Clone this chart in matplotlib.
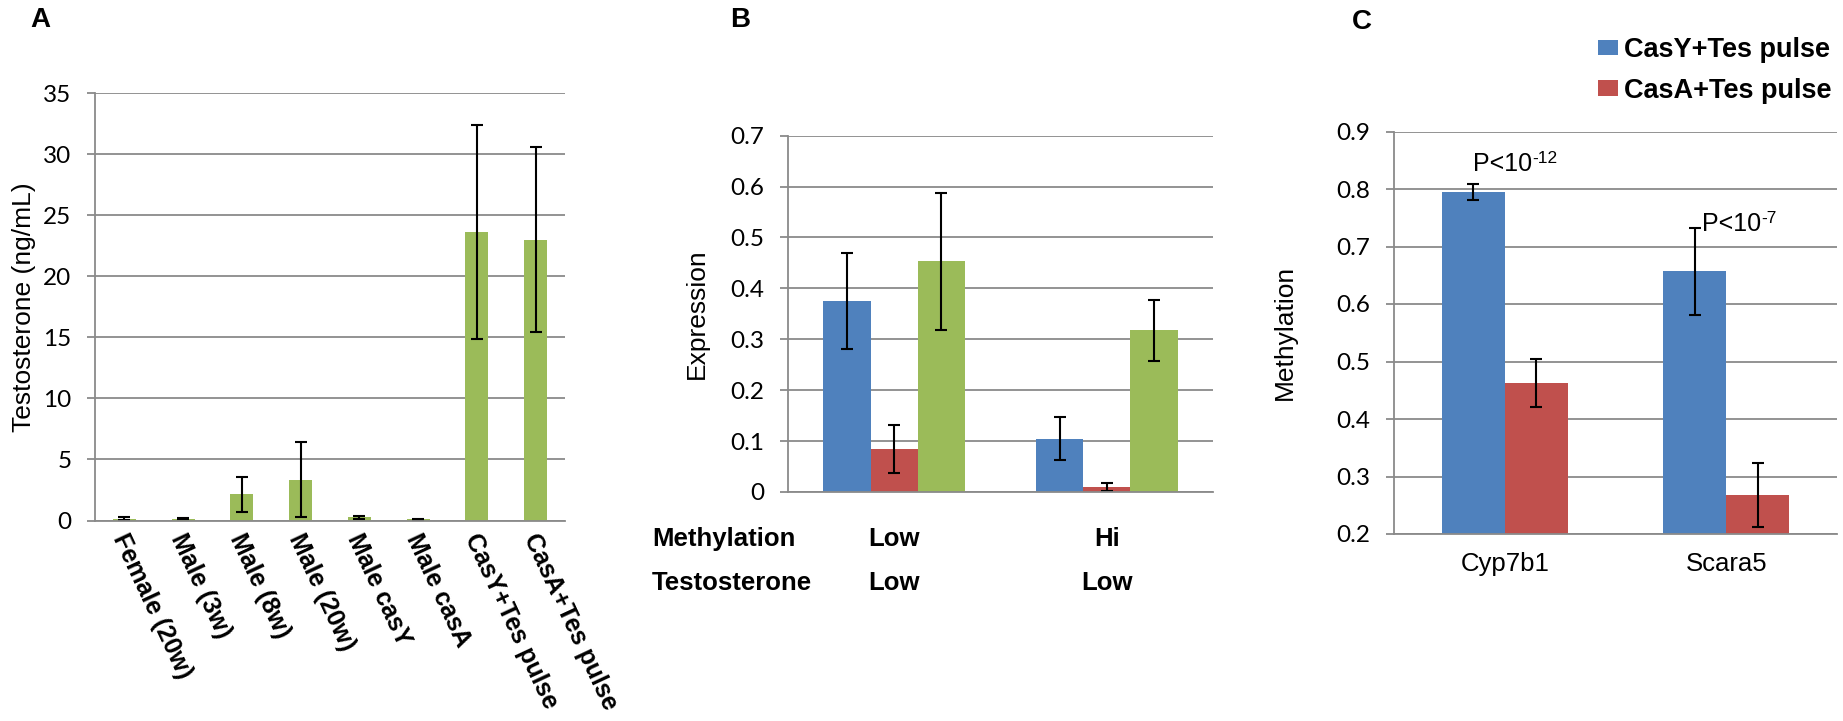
import matplotlib
matplotlib.use("Agg")
import matplotlib.pyplot as plt
import numpy as np
from matplotlib.transforms import blended_transform_factory, ScaledTranslation

plt.rcParams['font.family'] = ['Liberation Sans', 'DejaVu Sans']

BLUE = '#4F81BD'
RED = '#C0504D'
GREEN = '#9BBB59'
GRID = '#8A8A8A'

# Panel A data
a_labels = ['Female (20w)', 'Male (3w)', 'Male (8w)', 'Male (20w)', 'Male casY',
            'Male casA', 'CasY+Tes pulse', 'CasA+Tes pulse']
a_values = [0.15, 0.15, 2.14, 3.35, 0.25, 0.12, 23.6, 23.0]
a_errors = [0.12, 0.05, 1.46, 3.1, 0.12, 0.04, 8.75, 7.6]

# Panel B data
b_groups = ['Low', 'Hi']
b_testo = ['Low', 'Low']
b_blue = [0.375, 0.105]
b_blue_err = [0.094, 0.042]
b_red = [0.085, 0.010]
b_red_err = [0.047, 0.008]
b_green = [0.453, 0.318]
b_green_err = [0.135, 0.060]

# Panel C data
c_genes = ['Cyp7b1', 'Scara5']
c_casy = [0.795, 0.657]
c_casy_err = [0.014, 0.076]
c_casa = [0.463, 0.268]
c_casa_err = [0.042, 0.055]
c_series = ['CasY+Tes pulse', 'CasA+Tes pulse']
c_pbase = ['P<10', 'P<10']
c_pexp = ['-12', '-7']

W, H = 1843, 721
fig = plt.figure(figsize=(W / 100, H / 100), dpi=100)

def px_axes(l, t, r, b):
    return fig.add_axes([l / W, 1 - b / H, (r - l) / W, (b - t) / H])

def fx(x):
    return x / W

def fy(y):
    return 1 - y / H

TICKFONT = ['Lato', 'DejaVu Sans']

def style(ax):
    ax.set_axisbelow(True)
    ax.yaxis.grid(True, color=GRID, linewidth=1.3)
    for s in ['top', 'right']:
        ax.spines[s].set_visible(False)
    for s in ['left', 'bottom']:
        ax.spines[s].set_color(GRID)
        ax.spines[s].set_linewidth(1.3)
    ax.tick_params(axis='y', direction='out', length=6, width=1.3, color=GRID,
                   labelsize=17.5, pad=11)
    ax.tick_params(axis='x', length=0)
    for t in ax.get_yticklabels():
        t.set_fontfamily(TICKFONT)

ekw = dict(ecolor='black', elinewidth=1.5, capsize=4.5, capthick=1.5)

def place_ylabel(ax, text, xpix, left_pix, right_pix):
    ax.set_ylabel(text, fontsize=19, va='center')
    ax.yaxis.set_label_coords((xpix - left_pix) / (right_pix - left_pix), 0.5)

# ---- Panel A ----
A_L, A_T, A_R, A_B = 95, 93, 565, 520.5
axA = px_axes(A_L, A_T, A_R, A_B)
xa = np.arange(len(a_labels))
axA.bar(xa, a_values, width=0.39, color=GREEN, yerr=a_errors, error_kw=ekw, zorder=2)
axA.set_xlim(-0.5, len(a_labels) - 0.5)
axA.set_ylim(0, 35)
axA.set_yticks(np.arange(0, 36, 5))
axA.set_xticks(xa)
axA.set_xticklabels(a_labels, rotation=-65, ha='left', va='top',
                    rotation_mode='anchor', fontsize=18, fontweight='bold')
style(axA)
axA.tick_params(axis='x', pad=7)
shift = ScaledTranslation(5 / 100, 0, fig.dpi_scale_trans)
for t in axA.get_xticklabels():
    t.set_transform(t.get_transform() + shift)
place_ylabel(axA, 'Testosterone (ng/mL)', 24, A_L, A_R)
fig.text(fx(40), fy(20), 'A', fontsize=20, fontweight='bold', ha='center', va='center')

# ---- Panel B ----
B_L, B_T, B_R, B_B = 788, 135.7, 1213, 492
axB = px_axes(B_L, B_T, B_R, B_B)
xb = np.arange(len(b_groups))
bw = 0.222
axB.bar(xb - bw, b_blue, width=bw, color=BLUE, yerr=b_blue_err, error_kw=ekw, zorder=2)
axB.bar(xb, b_red, width=bw, color=RED, yerr=b_red_err, error_kw=ekw, zorder=2)
axB.bar(xb + bw, b_green, width=bw, color=GREEN, yerr=b_green_err, error_kw=ekw, zorder=2)
axB.set_xlim(-0.5, len(b_groups) - 0.5)
axB.set_ylim(0, 0.7)
yb = np.round(np.arange(0, 0.71, 0.1), 1)
axB.set_yticks(yb)
axB.set_yticklabels(['0'] + ['%.1f' % v for v in yb[1:]])
axB.set_xticks([])
style(axB)
place_ylabel(axB, 'Expression', 697, B_L, B_R)
fig.text(fx(740), fy(20), 'B', fontsize=20, fontweight='bold', ha='center', va='center')
trB = blended_transform_factory(axB.transData, fig.transFigure)
fig.text(fx(652), fy(539), 'Methylation', fontsize=18.5, fontweight='bold', ha='left', va='center')
fig.text(fx(652), fy(583), 'Testosterone', fontsize=18.5, fontweight='bold', ha='left', va='center')
for i, (g, t) in enumerate(zip(b_groups, b_testo)):
    axB.text(xb[i], fy(539), g, transform=trB, fontsize=18.5, fontweight='bold',
             ha='center', va='center')
    axB.text(xb[i], fy(583), t, transform=trB, fontsize=18.5, fontweight='bold',
             ha='center', va='center')

# ---- Panel C ----
C_L, C_T, C_R, C_B = 1394, 131.5, 1837, 534
axC = px_axes(C_L, C_T, C_R, C_B)
xc = np.arange(len(c_genes))
cw = 0.284
b1 = axC.bar(xc - cw / 2, c_casy, width=cw, color=BLUE, yerr=c_casy_err, error_kw=ekw,
             zorder=2, label=c_series[0])
b2 = axC.bar(xc + cw / 2, c_casa, width=cw, color=RED, yerr=c_casa_err, error_kw=ekw,
             zorder=2, label=c_series[1])
axC.set_xlim(-0.5, len(c_genes) - 0.5)
axC.set_ylim(0.2, 0.9)
yc = np.round(np.arange(0.2, 0.91, 0.1), 1)
axC.set_yticks(yc)
axC.set_yticklabels(['%.1f' % v for v in yc])
axC.set_xticks(xc)
axC.set_xticklabels(c_genes, fontsize=18.5)
style(axC)
axC.tick_params(axis='x', pad=13)
place_ylabel(axC, 'Methylation', 1285, C_L, C_R)
fig.text(fx(1362), fy(22), 'C', fontsize=20, fontweight='bold', ha='center', va='center')
p_pos = [(xc[0] - cw / 2, 0.832), (xc[1] - cw / 2 + 0.034, 0.727)]
for (px, py), base, exp in zip(p_pos, c_pbase, c_pexp):
    t = axC.text(px, py, base, fontsize=18, ha='left', va='baseline')
    axC.annotate(exp, xy=(1.0, 1.02), xycoords=t, fontsize=12.5, ha='left', va='top')
leg = fig.legend(handles=[b1, b2], labels=c_series, loc='upper left',
                 bbox_to_anchor=(fx(1598), fy(37)), frameon=False,
                 prop={'size': 19.5, 'weight': 'bold'}, handlelength=0.75, handleheight=0.5,
                 handletextpad=0.2, labelspacing=0.54, borderaxespad=0, borderpad=0)

fig.savefig('out.png', dpi=100)
